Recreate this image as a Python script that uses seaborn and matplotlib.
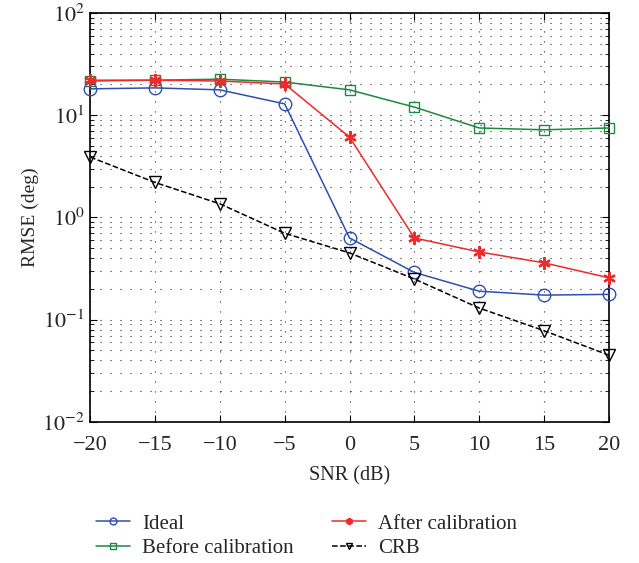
import numpy as np
import pandas as pd
import matplotlib
matplotlib.use("Agg")
import matplotlib.pyplot as plt
import seaborn as sns
from matplotlib.ticker import LogLocator, NullFormatter, FixedLocator

snr = [-20, -15, -10, -5, 0, 5, 10, 15, 20]
ideal = [18.1, 18.5, 17.7, 12.9, 0.63, 0.29, 0.19, 0.174, 0.177]
before = [21.6, 22.0, 22.5, 21.1, 17.7, 12.0, 7.5, 7.2, 7.5]
after = [22.0, 22.0, 21.6, 20.2, 6.1, 0.63, 0.46, 0.36, 0.257]
crb = [3.9, 2.2, 1.36, 0.70, 0.45, 0.25, 0.13, 0.078, 0.045]
names = ["Ideal", "Before calibration", "After calibration", "CRB"]

sns.set_style("ticks")
plt.rcParams['font.family'] = ['Liberation Serif', 'DejaVu Serif']
plt.rcParams['mathtext.fontset'] = 'stix'

fig = plt.figure(figsize=(6.39, 5.63), dpi=100)
ax = fig.add_axes([0.141, 0.2505, 0.812, 0.7265])

styles = [
    dict(color="#2f4fb0", marker="o", linestyle="-", mfc="none", ms=9, mew=1.0),
    dict(color="#1b8a3f", marker="s", linestyle="-", mfc="none", ms=7.5, mew=1.0),
    dict(color="#ee2a2a", marker=(6, 2, 0), linestyle="-", mfc="#ee2a2a", ms=9, mew=1.6),
    dict(color="black", marker="v", linestyle="--", mfc="none", ms=9, mew=1.0),
]
for name, vals, st in zip(names, [ideal, before, after, crb], styles):
    df = pd.DataFrame({"SNR": snr, "RMSE": vals})
    sns.lineplot(data=df, x="SNR", y="RMSE", ax=ax, label=name, color=st["color"],
                 marker=st["marker"], linestyle=st["linestyle"], markerfacecolor=st["mfc"],
                 markeredgecolor=st["color"], markersize=st["ms"], markeredgewidth=st["mew"],
                 linewidth=1.1, clip_on=False, zorder=3)

ax.set_yscale("log")
ax.set_ylim(1e-2, 1e2)
ax.set_xlim(-20, 20)
ax.set_xticks(snr)
ax.set_xticklabels(["\u221220", "\u221215", "\u221210", "\u22125", "0", "5", "10", "15", "20"])
ax.yaxis.set_major_locator(FixedLocator([1e-2, 1e-1, 1e0, 1e1, 1e2]))
ax.set_yticklabels([r"$10^{-2}$", r"$10^{-1}$", r"$10^{0}$", r"$10^{1}$", r"$10^{2}$"])
ax.yaxis.set_minor_locator(LogLocator(base=10, subs=np.arange(2, 10)))
ax.yaxis.set_minor_formatter(NullFormatter())

gls = (0, (1, 8))
ax.grid(True, which="major", axis="both", color="black", linestyle=gls, linewidth=0.8, alpha=0.85)
ax.grid(True, which="minor", axis="y", color="black", linestyle=gls, linewidth=0.8, alpha=0.85)

for s in ax.spines.values():
    s.set_visible(True)
    s.set_color("black")
    s.set_linewidth(1.2)
ax.tick_params(which="both", direction="in", top=True, right=True, labelsize=16, color="black")
ax.tick_params(which="major", length=5)
ax.tick_params(which="minor", length=3)
ax.tick_params(axis="x", pad=10)
ax.tick_params(axis="y", pad=4)

ax.set_xlabel("SNR (dB)", fontsize=14.5, labelpad=8)
ax.set_ylabel("RMSE (deg)", fontsize=14, labelpad=2)

leg = ax.legend(loc="upper left", bbox_to_anchor=(0.012, -0.225), ncol=2, frameon=False,
                fontsize=15, handlelength=1.6, columnspacing=1.85, labelspacing=0.25,
                handletextpad=0.6, markerscale=0.55, borderaxespad=0, borderpad=0)

fig.savefig("out.png", dpi=100)
